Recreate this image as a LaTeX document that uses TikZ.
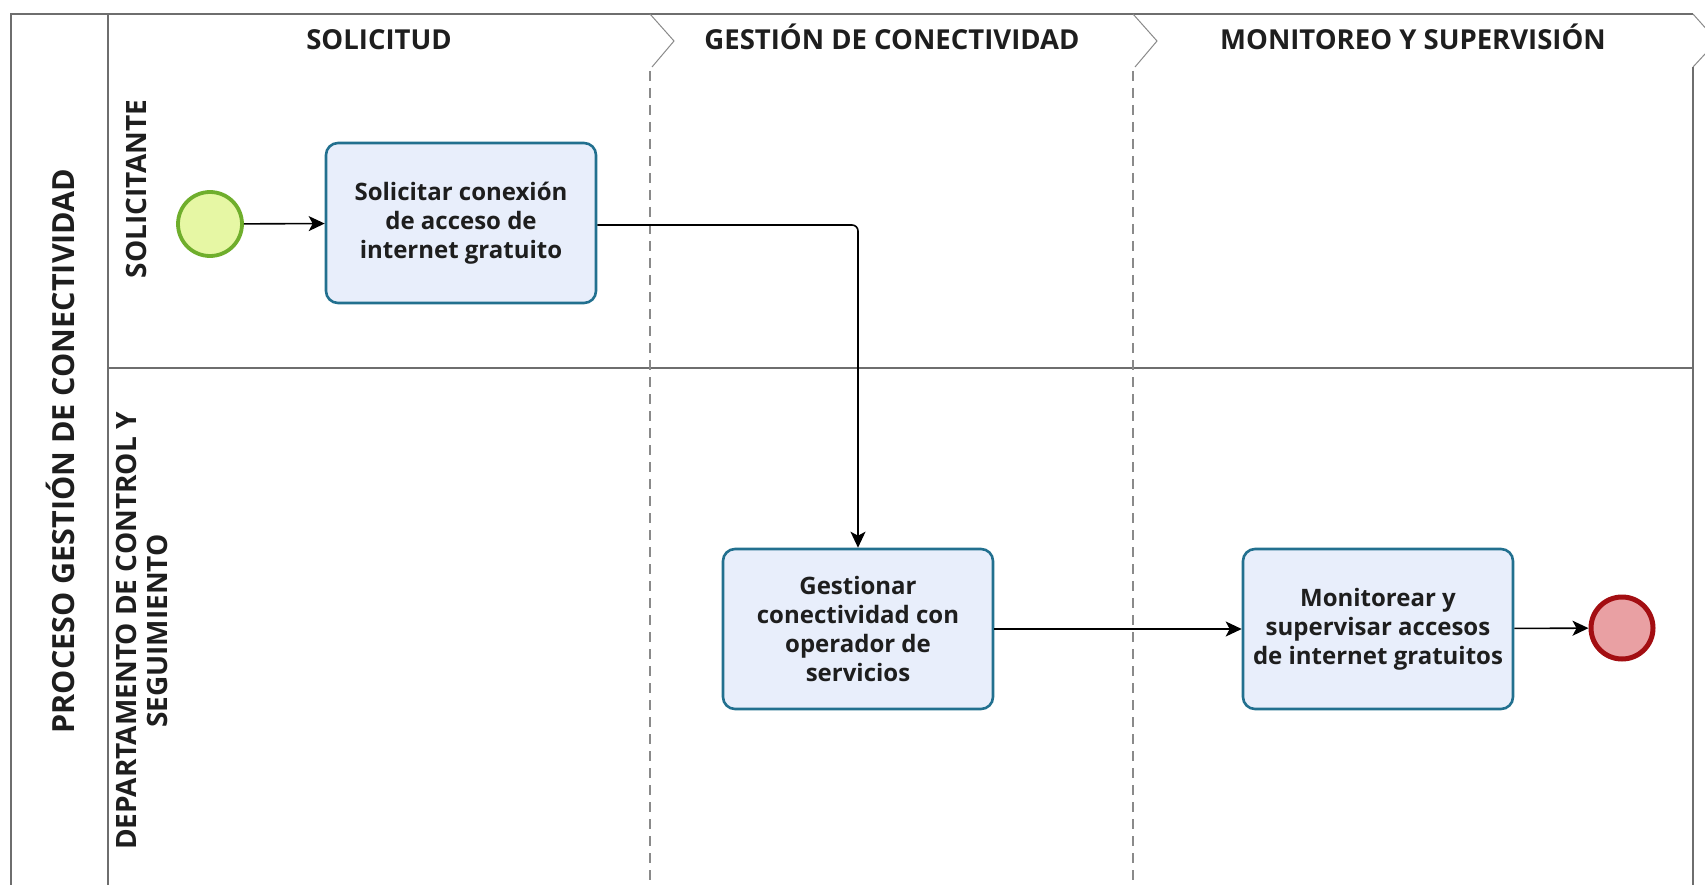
\documentclass[tikz,border=0pt]{standalone}
\usepackage{fontspec}
\setmainfont{Open Sans}
\usetikzlibrary{arrows.meta}

\definecolor{poolline}{HTML}{6E6E6E}
\definecolor{phaseline}{HTML}{8A8A8A}
\definecolor{taskfill}{HTML}{E8EEFB}
\definecolor{taskline}{HTML}{22708F}
\definecolor{startfill}{HTML}{E6F7A4}
\definecolor{startline}{HTML}{6FAE2C}
\definecolor{endfill}{HTML}{E9A0A3}
\definecolor{endline}{HTML}{A30E12}
\definecolor{txt}{HTML}{1E1E1E}

\tikzset{
  poolborder/.style={draw=poolline, line width=1.6pt},
  phasesep/.style={draw=phaseline, line width=1.1pt, dash pattern=on 10pt off 7pt},
  chevron/.style={draw=phaseline, line width=1pt},
  phaselabel/.style={font=\bfseries\fontsize{27.5}{32}\selectfont, text=txt, anchor=base},
  lanelabel/.style={font=\bfseries\fontsize{28}{30.5}\selectfont, text=txt, rotate=90, align=center},
  poollabel/.style={font=\bfseries\fontsize{30.5}{34}\selectfont, text=txt, rotate=90},
  task/.style={draw=taskline, fill=taskfill, line width=2.6pt, rounded corners=12pt,
    minimum width=270pt, minimum height=160pt, align=center, text=txt,
    font=\bfseries\fontsize{24}{29}\selectfont},
  startev/.style={circle, draw=startline, fill=startfill, line width=3.8pt, minimum size=64pt, inner sep=0pt},
  endev/.style={circle, draw=endline, fill=endfill, line width=5pt, minimum size=62pt, inner sep=0pt},
  flow/.style={draw=black, line width=1.6pt, -{Stealth[length=16pt, width=15pt, inset=4pt]}}
}

\begin{document}
\begin{tikzpicture}[x=1pt, y=-1pt]
  \useasboundingbox (0,0) rectangle (1705,885);

  % pool frame
  \coordinate (tl) at (11,14);
  \coordinate (tr) at (1693,14);
  \coordinate (rtip) at (1717,41);
  \coordinate (rlow) at (1693,67);
  \path[poolborder] (11,885) -- (tl) -- (tr);
  \path[chevron] (tr) -- (rtip) -- (rlow);
  \path[poolborder] (rlow) -- (1693,885);
  \path[poolborder] (108,14) -- (108,885);
  % lane separator
  \path[poolborder, line width=1.2pt] (108,368) -- (1693,368);

  % phase separators
  \foreach \px/\nm in {650/a, 1133/b} {
    \path[chevron] (\px,14) -- (\px+24,41) -- (\px+2,67);
    \path[phasesep] (\px,71) -- (\px,885);
  }

  % headers
  \node[phaselabel] (ph1) at (379,50) {SOLICITUD};
  \node[phaselabel] (ph2) at (892,50) {GESTIÓN DE CONECTIVIDAD};
  \node[phaselabel] (ph3) at (1413,50) {MONITOREO Y SUPERVISIÓN};

  \node[poollabel] (pool) at (60,451) {PROCESO GESTIÓN DE CONECTIVIDAD};
  \node[lanelabel] (lane1) at (136,189) {SOLICITANTE};
  \node[lanelabel] (lane2) at (142,631) {DEPARTAMENTO DE CONTROL Y\\SEGUIMIENTO};

  % flow elements
  \node[startev] (start) at (210,224) {};
  \node[task] (t1) at (461,223) {Solicitar conexión\\de acceso de\\internet gratuito};
  \node[task] (t2) at (858,629) {Gestionar\\conectividad con\\operador de\\servicios};
  \node[task] (t3) at (1378,629) {Monitorear y\\supervisar accesos\\de internet gratuitos};
  \node[endev] (end) at (1622,628) {};

  % sequence flows
  \path[flow] (start) -- (t1);
  \path[flow, rounded corners=6pt] (t1.east |- 0,225) -| (t2.north);
  \path[flow] (t2) -- (t3);
  \path[flow] (t3) -- (end);
\end{tikzpicture}
\end{document}
